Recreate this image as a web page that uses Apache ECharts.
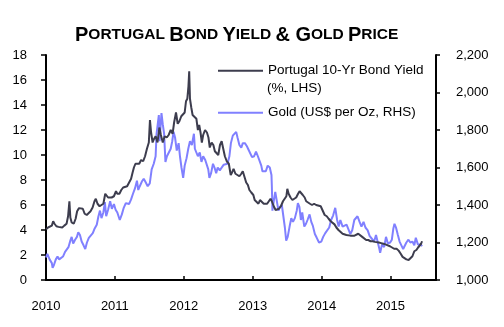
<!DOCTYPE html>
<html><head><meta charset="utf-8">
<script src="https://cdn.jsdelivr.net/npm/echarts@6/dist/echarts.min.js"></script>
<style>html,body{margin:0;padding:0;background:#fff}#c{width:504px;height:327px}</style>
</head><body><div id="c"></div>
<script>
// Portugal 10-Yr bond yield (%), [date, value]
const bondYield = [
['2010-01-01',4.05],['2010-01-12',4.2],['2010-01-22',4.15],['2010-02-01',4.35],['2010-02-08',4.7],['2010-02-15',4.5],['2010-02-25',4.3],['2010-03-08',4.25],['2010-03-18',4.3],['2010-03-28',4.2],['2010-04-08',4.35],['2010-04-20',4.5],['2010-04-28',5.1],['2010-05-05',6.3],['2010-05-10',5.0],['2010-05-17',4.6],['2010-05-28',4.5],['2010-06-07',4.9],['2010-06-15',5.5],['2010-06-25',5.75],['2010-07-05',5.6],['2010-07-15',5.7],['2010-07-25',5.3],['2010-08-05',5.2],['2010-08-15',5.25],['2010-08-25',5.5],['2010-09-05',5.8],['2010-09-15',6.3],['2010-09-22',6.5],['2010-10-01',6.1],['2010-10-12',5.9],['2010-10-22',6.0],['2010-11-01',6.1],['2010-11-11',6.9],['2010-11-18',7.0],['2010-11-26',6.6],['2010-12-06',6.5],['2010-12-15',6.6],['2010-12-27',6.7],
['2011-01-07',7.1],['2011-01-14',6.9],['2011-01-25',6.9],['2011-02-04',7.2],['2011-02-14',7.4],['2011-02-24',7.4],['2011-03-07',7.5],['2011-03-17',7.6],['2011-03-28',8.1],['2011-04-05',8.6],['2011-04-12',9.0],['2011-04-20',9.3],['2011-04-29',9.4],['2011-05-10',9.3],['2011-05-20',9.6],['2011-05-31',9.5],['2011-06-10',9.9],['2011-06-20',10.5],['2011-06-30',11.0],['2011-07-06',12.8],['2011-07-12',11.8],['2011-07-20',11.0],['2011-07-28',11.3],['2011-08-05',11.5],['2011-08-15',11.0],['2011-08-25',12.2],['2011-09-02',11.6],['2011-09-12',11.0],['2011-09-22',11.5],['2011-10-03',11.4],['2011-10-13',11.6],['2011-10-24',12.0],['2011-11-03',11.7],['2011-11-11',12.6],['2011-11-21',13.4],['2011-11-30',12.5],['2011-12-09',12.7],['2011-12-19',13.1],['2011-12-29',13.2],
['2012-01-06',13.4],['2012-01-13',14.3],['2012-01-20',14.5],['2012-01-26',15.5],['2012-01-30',16.7],['2012-02-03',14.5],['2012-02-10',13.8],['2012-02-17',13.2],['2012-02-27',13.3],['2012-03-08',12.9],['2012-03-16',12.0],['2012-03-23',12.4],['2012-03-30',11.8],['2012-04-06',11.0],['2012-04-13',11.6],['2012-04-23',12.0],['2012-05-03',11.8],['2012-05-11',11.4],['2012-05-18',10.6],['2012-05-28',11.0],['2012-06-06',10.8],['2012-06-14',10.3],['2012-06-22',10.4],['2012-07-02',10.0],['2012-07-11',10.8],['2012-07-20',11.1],['2012-07-27',10.6],['2012-08-06',9.9],['2012-08-16',9.5],['2012-08-27',9.3],['2012-09-06',8.4],['2012-09-13',8.6],['2012-09-21',8.9],['2012-10-01',8.5],['2012-10-11',8.6],['2012-10-22',8.3],['2012-11-01',8.5],['2012-11-09',8.7],['2012-11-19',8.2],['2012-11-27',7.8],['2012-12-06',7.6],['2012-12-14',7.2],['2012-12-24',7.0],
['2013-01-04',6.8],['2013-01-11',6.4],['2013-01-21',6.3],['2013-01-31',6.1],['2013-02-08',6.4],['2013-02-18',6.3],['2013-02-28',6.1],['2013-03-08',6.2],['2013-03-18',6.1],['2013-03-28',6.2],['2013-04-05',6.5],['2013-04-12',6.3],['2013-04-22',5.9],['2013-05-02',5.6],['2013-05-10',5.5],['2013-05-20',5.7],['2013-05-30',5.9],['2013-06-10',6.3],['2013-06-20',6.4],['2013-06-28',6.7],['2013-07-03',7.3],['2013-07-10',6.9],['2013-07-20',6.6],['2013-07-30',6.4],['2013-08-09',6.5],['2013-08-19',6.6],['2013-08-29',6.9],['2013-09-06',7.1],['2013-09-13',7.2],['2013-09-23',6.8],['2013-10-03',6.6],['2013-10-11',6.3],['2013-10-21',6.2],['2013-10-31',6.1],['2013-11-11',6.0],['2013-11-22',6.1],['2013-12-03',6.0],['2013-12-13',5.95],['2013-12-27',5.9],
['2014-01-08',5.5],['2014-01-17',5.2],['2014-01-28',5.1],['2014-02-07',4.9],['2014-02-18',4.7],['2014-02-28',4.6],['2014-03-10',4.45],['2014-03-20',4.2],['2014-03-31',4.0],['2014-04-10',3.9],['2014-04-22',3.7],['2014-05-02',3.7],['2014-05-12',3.6],['2014-05-22',3.7],['2014-06-02',3.55],['2014-06-12',3.5],['2014-06-24',3.55],['2014-07-04',3.6],['2014-07-14',3.7],['2014-07-24',3.55],['2014-08-04',3.45],['2014-08-14',3.3],['2014-08-25',3.2],['2014-09-05',3.2],['2014-09-17',3.1],['2014-09-29',3.1],['2014-10-10',3.05],['2014-10-20',3.2],['2014-10-31',3.0],['2014-11-12',2.95],['2014-11-24',2.9],['2014-12-05',2.85],['2014-12-15',2.75],['2014-12-29',2.7],
['2015-01-09',2.6],['2015-01-20',2.5],['2015-02-02',2.5],['2015-02-13',2.35],['2015-02-24',2.1],['2015-03-06',1.85],['2015-03-16',1.7],['2015-03-26',1.65],['2015-04-07',1.6],['2015-04-17',1.7],['2015-04-27',1.9],['2015-05-07',2.3],['2015-05-18',2.4],['2015-05-27',2.6],['2015-06-05',2.7],['2015-06-12',2.9],['2015-06-17',3.1]
];
// Gold price (US$ per oz), [date, value]
const goldPrice = [
['2010-01-01',1120],['2010-01-08',1140],['2010-01-20',1110],['2010-02-01',1090],['2010-02-05',1065],['2010-02-12',1080],['2010-02-22',1110],['2010-03-03',1125],['2010-03-12',1110],['2010-03-22',1100],['2010-04-01',1125],['2010-04-12',1150],['2010-04-22',1140],['2010-04-30',1175],['2010-05-10',1210],['2010-05-17',1230],['2010-05-25',1195],['2010-06-04',1215],['2010-06-14',1230],['2010-06-21',1255],['2010-06-30',1240],['2010-07-09',1205],['2010-07-19',1185],['2010-07-28',1165],['2010-08-06',1200],['2010-08-16',1225],['2010-08-26',1235],['2010-09-06',1250],['2010-09-16',1275],['2010-09-27',1295],['2010-10-06',1340],['2010-10-14',1370],['2010-10-22',1330],['2010-11-01',1360],['2010-11-09',1415],['2010-11-16',1340],['2010-11-26',1375],['2010-12-07',1420],['2010-12-16',1380],['2010-12-27',1405],
['2011-01-05',1375],['2011-01-14',1360],['2011-01-27',1320],['2011-02-07',1350],['2011-02-17',1385],['2011-02-28',1410],['2011-03-10',1420],['2011-03-17',1405],['2011-03-28',1430],['2011-04-07',1460],['2011-04-18',1490],['2011-04-28',1530],['2011-05-05',1480],['2011-05-13',1500],['2011-05-24',1525],['2011-06-03',1540],['2011-06-14',1520],['2011-06-24',1500],['2011-07-05',1515],['2011-07-15',1590],['2011-07-26',1620],['2011-08-05',1660],['2011-08-10',1780],['2011-08-16',1780],['2011-08-22',1880],['2011-08-26',1740],['2011-09-05',1890],['2011-09-12',1830],['2011-09-19',1780],['2011-09-26',1630],['2011-10-04',1660],['2011-10-13',1670],['2011-10-24',1700],['2011-11-01',1740],['2011-11-08',1790],['2011-11-16',1760],['2011-11-25',1690],['2011-12-05',1730],['2011-12-12',1660],['2011-12-20',1600],['2011-12-29',1545],
['2012-01-06',1610],['2012-01-16',1650],['2012-01-25',1700],['2012-02-03',1740],['2012-02-13',1720],['2012-02-24',1780],['2012-02-29',1700],['2012-03-08',1680],['2012-03-16',1660],['2012-03-26',1680],['2012-04-04',1630],['2012-04-13',1660],['2012-04-24',1640],['2012-05-03',1650],['2012-05-10',1590],['2012-05-16',1545],['2012-05-25',1570],['2012-06-04',1620],['2012-06-12',1600],['2012-06-21',1570],['2012-06-29',1600],['2012-07-10',1585],['2012-07-20',1580],['2012-07-31',1615],['2012-08-10',1610],['2012-08-20',1620],['2012-08-30',1660],['2012-09-07',1730],['2012-09-17',1770],['2012-09-27',1775],['2012-10-05',1790],['2012-10-12',1760],['2012-10-22',1720],['2012-11-01',1705],['2012-11-09',1730],['2012-11-20',1730],['2012-11-30',1715],['2012-12-07',1700],['2012-12-17',1690],['2012-12-28',1655],
['2013-01-08',1660],['2013-01-18',1685],['2013-01-28',1660],['2013-02-07',1670],['2013-02-15',1610],['2013-02-21',1580],['2013-03-01',1580],['2013-03-11',1580],['2013-03-21',1610],['2013-04-01',1600],['2013-04-10',1560],['2013-04-12',1500],['2013-04-15',1370],['2013-04-22',1420],['2013-04-30',1470],['2013-05-08',1460],['2013-05-17',1370],['2013-05-24',1390],['2013-06-04',1400],['2013-06-14',1390],['2013-06-20',1280],['2013-06-27',1210],['2013-07-05',1230],['2013-07-15',1285],['2013-07-24',1330],['2013-08-02',1310],['2013-08-12',1330],['2013-08-22',1370],['2013-08-28',1410],['2013-09-05',1390],['2013-09-13',1320],['2013-09-20',1360],['2013-10-01',1285],['2013-10-10',1300],['2013-10-18',1320],['2013-10-29',1350],['2013-11-07',1310],['2013-11-15',1290],['2013-11-26',1245],['2013-12-06',1225],['2013-12-18',1200],['2013-12-30',1205],
['2014-01-09',1230],['2014-01-20',1250],['2014-01-30',1250],['2014-02-10',1280],['2014-02-20',1320],['2014-03-03',1345],['2014-03-14',1385],['2014-03-24',1320],['2014-04-01',1285],['2014-04-10',1320],['2014-04-22',1285],['2014-05-02',1295],['2014-05-13',1295],['2014-05-22',1290],['2014-06-02',1245],['2014-06-12',1265],['2014-06-23',1320],['2014-07-03',1320],['2014-07-10',1340],['2014-07-21',1310],['2014-07-31',1285],['2014-08-11',1310],['2014-08-21',1280],['2014-09-02',1265],['2014-09-12',1235],['2014-09-24',1220],['2014-10-06',1205],['2014-10-16',1240],['2014-10-24',1230],['2014-11-03',1165],['2014-11-07',1145],['2014-11-17',1190],['2014-11-28',1175],['2014-12-08',1230],['2014-12-18',1195],['2014-12-30',1200],
['2015-01-08',1215],['2015-01-16',1275],['2015-01-22',1300],['2015-01-30',1280],['2015-02-09',1240],['2015-02-18',1205],['2015-02-27',1210],['2015-03-09',1165],['2015-03-17',1155],['2015-03-26',1200],['2015-04-06',1215],['2015-04-16',1200],['2015-04-27',1205],['2015-05-07',1185],['2015-05-15',1225],['2015-05-26',1190],['2015-06-04',1180],['2015-06-10',1190],['2015-06-17',1180]
];

const seriesNames = ['Portugal 10-Yr Bond Yield', 'Gold (US$ per Oz, RHS)'];
const bondLegendLine2 = '(%, LHS)';
const leftTicks = {min: 0, max: 18, interval: 2};
const rightTicks = {min: 1000, max: 2200, interval: 200};
const xRange = {min: '2010-01-01', max: '2015-08-30'};

const chart = echarts.init(document.getElementById('c'), null, {renderer: 'canvas'});
const YEAR = 365.25 * 24 * 3600 * 1000;
const labelFont = {fontFamily: 'Liberation Sans', fontSize: 13, color: '#000'};
chart.setOption({
  animation: false,
  backgroundColor: '#fff',
  title: {
    text: '{a|P}{b|ORTUGAL }{a|B}{b|OND }{a|Y}{b|IELD }{a|& G}{b|OLD }{a|P}{b|RICE}',
    left: 70, top: 20,
    textStyle: {
      rich: {
        a: {fontFamily: 'Liberation Sans', fontWeight: 'bold', fontSize: 20, color: '#000'},
        b: {fontFamily: 'Liberation Sans', fontWeight: 'bold', fontSize: 15.5, color: '#000'}
      }
    }
  },
  legend: {
    orient: 'vertical', left: 217, top: 62.7, padding: 0,
    itemWidth: 45, itemHeight: 16, itemGap: 26,
    itemStyle: {opacity: 0},
    textStyle: {fontFamily: 'Liberation Sans', fontSize: 13.5, color: '#000', lineHeight: 16},
    data: seriesNames
  },
  graphic: [{
    type: 'text', left: 267, top: 81,
    style: {text: bondLegendLine2, font: '13.5px "Liberation Sans"', fill: '#000'}
  }],
  grid: {left: 46, right: 68, top: 55, bottom: 47},
  xAxis: {
    type: 'time', min: xRange.min, max: xRange.max,
    minInterval: YEAR * 0.99, maxInterval: YEAR * 1.01,
    axisLine: {lineStyle: {color: '#000', width: 2}},
    axisTick: {inside: true, length: 4, lineStyle: {color: '#000', width: 1.5}},
    axisLabel: Object.assign({margin: 20, formatter: '{yyyy}', showMinLabel: true, hideOverlap: false}, labelFont),
    splitLine: {show: false}
  },
  yAxis: [{
    type: 'value', min: leftTicks.min, max: leftTicks.max, interval: leftTicks.interval,
    axisLine: {show: true, lineStyle: {color: '#000', width: 2}},
    axisTick: {show: true, length: 5, lineStyle: {color: '#000', width: 1.5}},
    axisLabel: Object.assign({margin: 19}, labelFont),
    splitLine: {show: false}
  }, {
    type: 'value', min: rightTicks.min, max: rightTicks.max, interval: rightTicks.interval,
    position: 'right',
    axisLine: {show: true, lineStyle: {color: '#000', width: 2}},
    axisTick: {show: true, length: 4, lineStyle: {color: '#000', width: 1.5}},
    axisLabel: Object.assign({margin: 20, formatter: v => v.toLocaleString('en-US')}, labelFont),
    splitLine: {show: false}
  }],
  series: [{
    name: seriesNames[0], type: 'line', yAxisIndex: 0, symbol: 'none',
    lineStyle: {color: '#3d3d4e', width: 2}, itemStyle: {color: '#3d3d4e'},
    data: bondYield, z: 3
  }, {
    name: seriesNames[1], type: 'line', yAxisIndex: 1, symbol: 'none',
    lineStyle: {color: '#8080ff', width: 2}, itemStyle: {color: '#8080ff'},
    data: goldPrice, z: 2
  }]
});
</script></body></html>
